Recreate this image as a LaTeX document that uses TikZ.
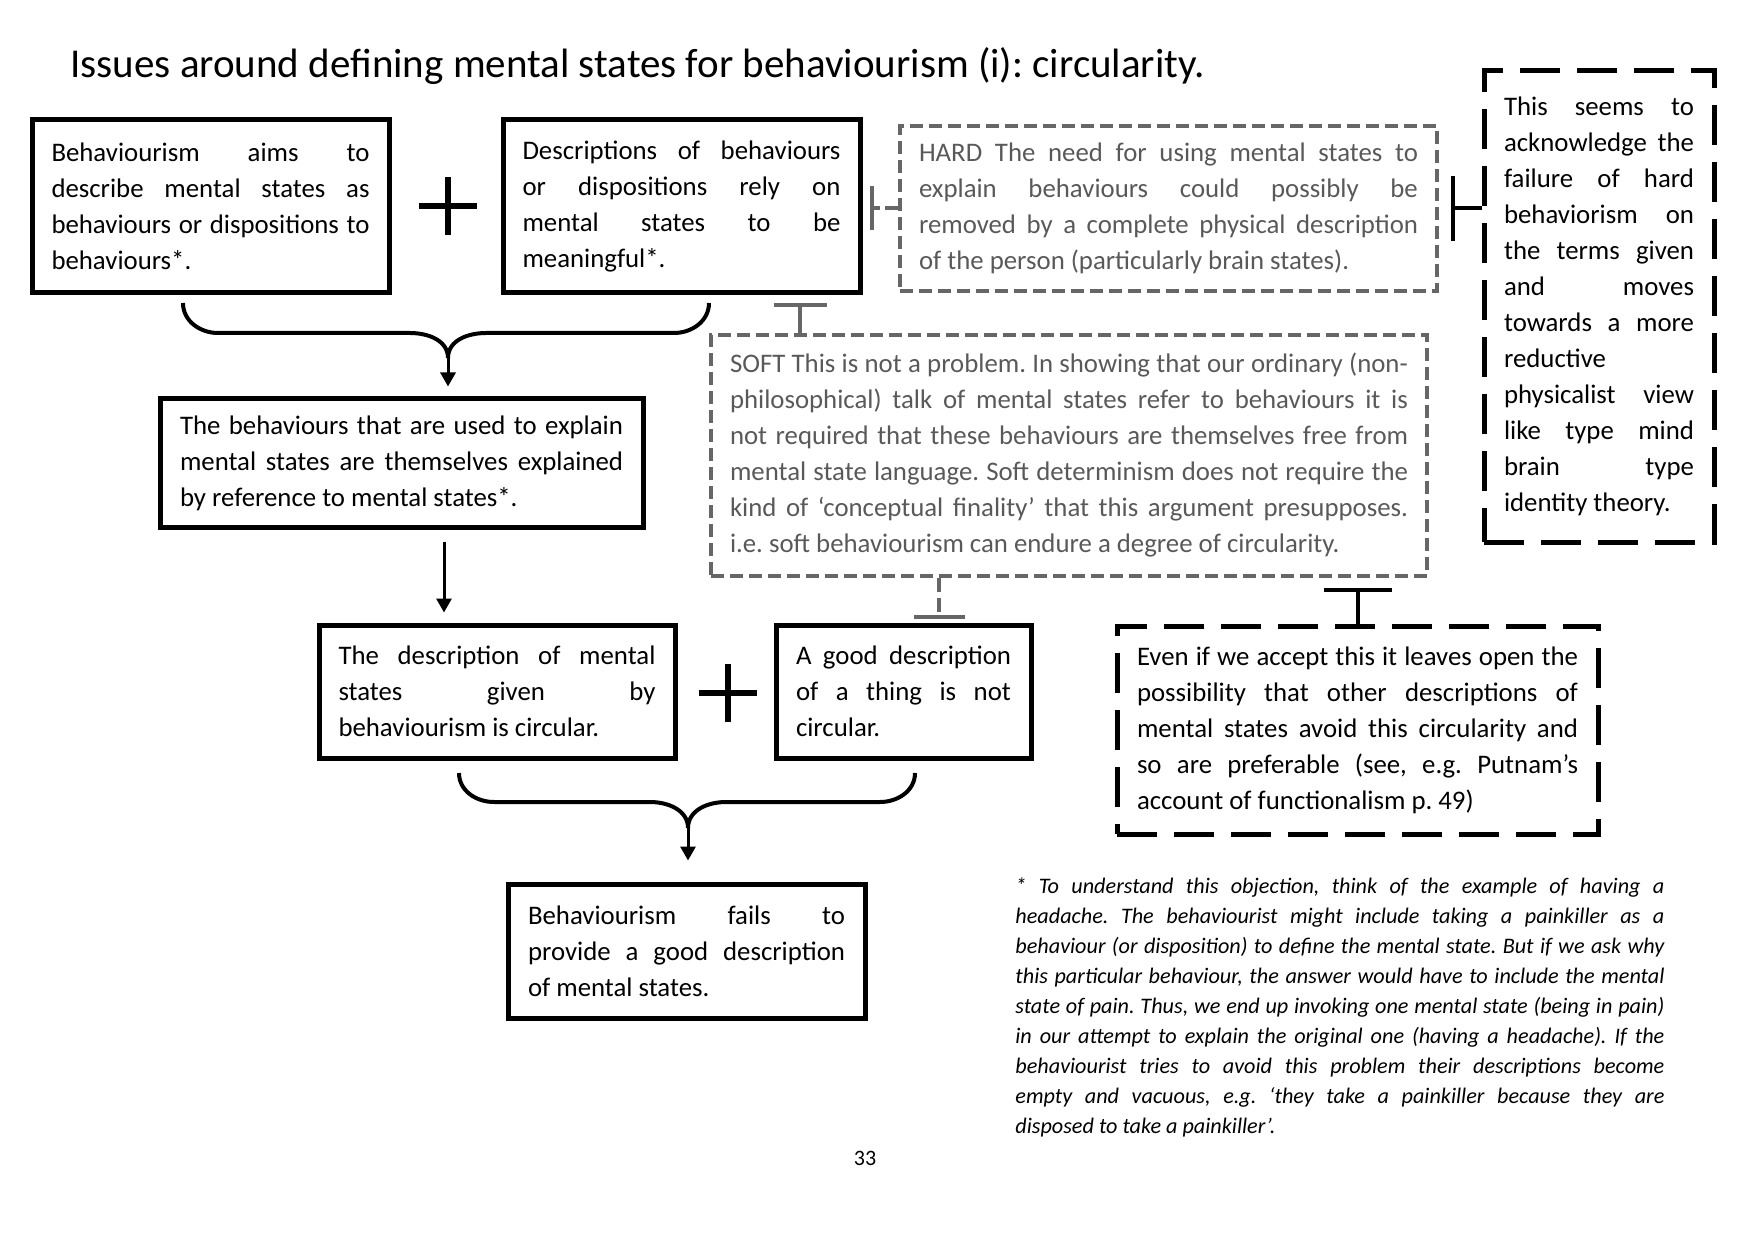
\documentclass[tikz,border=0pt]{standalone}
\usepackage{fontspec}
\setmainfont{Carlito}
\usetikzlibrary{arrows.meta, calc}
\definecolor{softgrey}{RGB}{89, 89, 89}
\definecolor{edgegrey}{RGB}{102, 102, 102}
\newcommand{\boxfont}{\fontsize{13.4}{18}\selectfont}
\newcommand{\notefont}{\fontsize{11.1}{15}\selectfont\itshape}
\frenchspacing
\tolerance=10000
\hbadness=10000
\hfuzz=10pt

\begin{document}
\begin{tikzpicture}[x=0.5pt, y=-0.5pt,
  bx/.style={draw, line width=2.5pt, align=justify, inner sep=0pt, font=\boxfont},
  greybx/.style={bx, draw=edgegrey, text=softgrey, line width=2pt, dash pattern=on 6.5pt off 3pt},
  dashbx/.style={bx, dash pattern=on 20pt off 8.5pt},
  brace/.style={line width=2pt},
  arr/.style={line width=1.5pt, -{Triangle[width=7.5pt, length=7pt]}},
  block/.style={line width=2pt, -{Bar[width=#1]}},
  plus/.style={line width=3pt}
]
  \useasboundingbox (0,0) rectangle (1744,1240);

  % Title
  \node[font=\fontsize{20.5}{24}\selectfont, anchor=base west, inner sep=0pt] (title) at (70,78)
    {Issues around defining mental states for behaviourism (i): circularity.};

  % Premises
  \node[bx, minimum width=178.5pt, minimum height=86.5pt, text width=159pt] (aims) at (210.5,206.5)
    {Behaviourism aims to\linebreak describe mental states as\linebreak behaviours or dispositions to\linebreak behaviours*.};
  \node[bx, minimum width=178.5pt, minimum height=86.5pt, text width=159pt] (rely) at (681.5,206.5)
    {Descriptions of behaviours\linebreak or dispositions rely on\linebreak mental states to be\linebreak meaningful*.};
  \draw[plus] (448,177) -- (448,235) (419,206) -- (477,206);

  % Intermediate conclusion
  \node[bx, minimum width=241.5pt, minimum height=64pt, text width=221.5pt] (expl) at (401.5,463)
    {The behaviours that are used to explain\linebreak mental states are themselves explained\linebreak by reference to mental states*.};

  \node[bx, minimum width=178pt, minimum height=66.5pt, text width=158.5pt] (circ) at (497,691.5)
    {The description of mental\linebreak states given by\linebreak behaviourism is circular.};
  \node[bx, minimum width=127.5pt, minimum height=66.5pt, text width=107.5pt] (good) at (903.5,691.5)
    {A good description\linebreak of a thing is not\linebreak circular.};
  \draw[plus] (728,664) -- (728,722) (699,693) -- (757,693);

  % Conclusion
  \node[bx, minimum width=178.5pt, minimum height=67pt, text width=158.5pt] (fails) at (686.5,951)
    {Behaviourism fails to\linebreak provide a good description\linebreak of mental states.};

  % Responses
  \node[greybx, minimum width=268.5pt, minimum height=82.5pt, text width=249.5pt] (hard) at (1168.5,208.5)
    {HARD The need for using mental states to\linebreak explain behaviours could possibly be\linebreak removed by a complete physical description\linebreak of the person (particularly brain states).};
  \node[greybx, minimum width=358pt, minimum height=120.5pt, text width=339pt] (soft) at (1069,455.5)
    {SOFT This is not a problem. In showing that our ordinary (non-\linebreak philosophical) talk of mental states refer to behaviours it is\linebreak not required that these behaviours are themselves free from\linebreak mental state language. Soft determinism does not require the\linebreak kind of ‘conceptual finality’ that this argument presupposes.\linebreak i.e. soft behaviourism can endure a degree of circularity.};
  \node[dashbx, minimum width=115pt, minimum height=235.5pt, text width=95pt] (seems) at (1599,306.5)
    {This seems to\linebreak acknowledge the\linebreak failure of hard\linebreak behaviorism on\linebreak the terms given\linebreak and moves\linebreak towards a more\linebreak reductive\newline physicalist view\linebreak like type mind\linebreak brain type\linebreak identity theory.\par\vspace{7pt}};
  \node[dashbx, minimum width=240.5pt, minimum height=104pt, text width=220.5pt] (even) at (1357.5,730)
    {Even if we accept this it leaves open the\linebreak possibility that other descriptions of\linebreak mental states avoid this circularity and\linebreak so are preferable (see, e.g. Putnam’s\linebreak account of functionalism p. 49)};

  % Footnote and page number
  \node[font=\notefont, text width=324.5pt, align=justify, inner sep=0pt, anchor=north west] (note) at (1015,877)
    {* To understand this objection, think of the example of having a\linebreak headache. The behaviourist might include taking a painkiller as a\linebreak behaviour (or disposition) to define the mental state. But if we ask why\linebreak this particular behaviour, the answer would have to include the mental\linebreak state of pain. Thus, we end up invoking one mental state (being in pain)\linebreak in our attempt to explain the original one (having a headache). If the\linebreak behaviourist tries to avoid this problem their descriptions become\linebreak empty and vacuous, e.g. ‘they take a painkiller because they are\linebreak disposed to take a painkiller’.};
  \node[font=\fontsize{11}{13}\selectfont, inner sep=0pt] (pagenum) at (865,1158) {33};

  % Braces and arrows
  \coordinate (tip1) at (448,358);
  \coordinate (tip2) at (688,828);
  \coordinate (down) at (444,0);
  \draw[brace] (183,303) to[out=-90, in=180] (218,333) -- (410,333) to[out=0, in=90] (tip1)
    to[out=90, in=180] (486,333) -- (674,333) to[out=0, in=-90] (709,303);
  \draw[arr, shorten >=5pt] (tip1) -- (tip1 |- expl.north);
  \draw[arr, shorten <=6pt, shorten >=5pt] (down |- expl.south) -- (down |- circ.north);
  \draw[brace] (459,773) to[out=-90, in=180] (494,802) -- (650,802) to[out=0, in=90] (tip2)
    to[out=90, in=180] (726,802) -- (880,802) to[out=0, in=-90] (915,773);
  \draw[arr, shorten >=10.5pt] (tip2) -- (tip2 |- fails.north);

  % Blocking connectors
  \coordinate (sb) at (800,0);
  \coordinate (sc) at (939,0);
  \draw[block=22pt, edgegrey, dash pattern=on 6.5pt off 2.5pt, shorten >=3.5pt] (hard.west) -- (hard.west -| rely.east);
  \draw[block=26.5pt, edgegrey, shorten >=4pt] (sb |- soft.north) -- (sb |- rely.south);
  \draw[block=25.5pt, edgegrey, dash pattern=on 7pt off 3pt, shorten >=2pt] (sc |- soft.south) -- (sc |- good.north);
  \draw[block=34pt, shorten >=5pt] (even.north) -- (even.north |- soft.south);
  \draw[block=32.5pt, shorten >=6pt] (seems.west |- hard.east) -- (hard.east);
\end{tikzpicture}
\end{document}
